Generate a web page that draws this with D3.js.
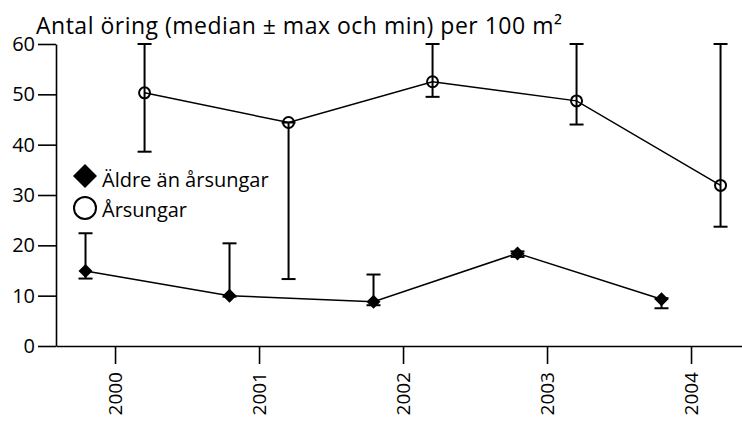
<!DOCTYPE html>
<html>
<head>
<meta charset="utf-8">
<script src="https://cdn.jsdelivr.net/npm/d3@7"></script>
<style>
  body { margin: 0; background: #fff; }
  svg text { font-family: "Open Sans", sans-serif; fill: #000; }
</style>
</head>
<body>
<svg id="canvas"></svg>
<script>
// data
let years = [2000, 2001, 2002, 2003, 2004]
let aldreMedian = [14.9, 10.0, 8.8, 18.4, 9.3]
let aldreMax = [22.4, 20.4, 14.2, 18.8, 9.5]
let aldreMin = [13.4, 9.8, 8.1, 17.7, 7.5]
let arsMedian = [50.3, 44.4, 52.5, 48.7, 31.9]
let arsMax = [60, 44.4, 60, 60, 60]
let arsMin = [38.6, 13.3, 49.5, 44.0, 23.7]
let yTicks = [0, 10, 20, 30, 40, 50, 60]
let titleText = "Antal öring (median ± max och min) per 100 m²"
let legendLabels = ["Äldre än årsungar", "Årsungar"]

let width = 742
let height = 422

let svg = d3.select('#canvas')
  .attr('width', width)
  .attr('height', height)

let x = d3.scaleLinear().domain([1999.59, 2004.354]).range([56, 742])
let y = d3.scaleLinear().domain([0, 60]).range([346, 44])

let shift = 0.205

// title
svg.append('text')
  .attr('x', 36)
  .attr('y', 34)
  .attr('font-size', 23)
  .attr('letter-spacing', 0.5)
  .text(titleText)

// axes
let yAxis = svg.append('g')
  .attr('transform', 'translate(56,0)')
  .call(d3.axisLeft(y).tickValues(yTicks).tickSize(18).tickSizeOuter(0).tickPadding(3))
yAxis.selectAll('text').attr('font-size', 20).attr('font-family', '"Open Sans", sans-serif')
yAxis.selectAll('line, path').attr('stroke', '#000').attr('stroke-width', 1.6)

let xAxis = svg.append('g')
  .attr('transform', 'translate(0,346)')
  .call(d3.axisBottom(x).tickValues(years).tickFormat(d3.format('d')).tickSize(18).tickSizeOuter(0))
xAxis.selectAll('line, path').attr('stroke', '#000').attr('stroke-width', 1.6)
xAxis.selectAll('text')
  .attr('font-size', 19)
  .attr('font-family', '"Open Sans", sans-serif')
  .attr('transform', 'rotate(-90)')
  .attr('text-anchor', 'end')
  .attr('x', -26)
  .attr('y', 0)
  .attr('dy', '0.35em')

let drawSeries = (med, hi, lo, off, kind) => {
  let rows = years.map((yr, i) => ({ yr: yr, med: med[i], hi: hi[i], lo: lo[i] }))
  let px = (d) => x(d.yr + off)

  svg.append('path')
    .datum(rows)
    .attr('fill', 'none')
    .attr('stroke', '#000')
    .attr('stroke-width', 1.5)
    .attr('d', d3.line().x(px).y((d) => y(d.med)))

  let bars = svg.append('g').selectAll('g')
    .data(rows)
    .enter()
    .append('g')
    .attr('stroke', '#000')
    .attr('stroke-width', 2)

  bars.append('line')
    .attr('x1', px).attr('x2', px)
    .attr('y1', (d) => y(d.hi)).attr('y2', (d) => y(d.lo))
  bars.append('line')
    .attr('x1', (d) => px(d) - 7).attr('x2', (d) => px(d) + 7)
    .attr('y1', (d) => y(d.hi)).attr('y2', (d) => y(d.hi))
  bars.append('line')
    .attr('x1', (d) => px(d) - 7).attr('x2', (d) => px(d) + 7)
    .attr('y1', (d) => y(d.lo)).attr('y2', (d) => y(d.lo))

  if (kind === 'diamond') {
    svg.append('g').selectAll('path')
      .data(rows)
      .enter()
      .append('path')
      .attr('d', (d) => {
        let cx = px(d), cy = y(d.med)
        return `M${cx},${cy - 7}L${cx + 7},${cy}L${cx},${cy + 7}L${cx - 7},${cy}Z`
      })
      .attr('fill', '#000')
  } else {
    svg.append('g').selectAll('circle')
      .data(rows)
      .enter()
      .append('circle')
      .attr('cx', px)
      .attr('cy', (d) => y(d.med))
      .attr('r', 5.5)
      .attr('fill', 'none')
      .attr('stroke', '#000')
      .attr('stroke-width', 2)
  }
}

drawSeries(aldreMedian, aldreMax, aldreMin, -shift, 'diamond')
drawSeries(arsMedian, arsMax, arsMin, shift, 'circle')

// legend
let legend = svg.append('g')
legend.append('path')
  .attr('d', 'M85,164L97,176L85,188L73,176Z')
  .attr('fill', '#000')
legend.append('circle')
  .attr('cx', 85).attr('cy', 208).attr('r', 11)
  .attr('fill', 'none').attr('stroke', '#000').attr('stroke-width', 2)
legend.selectAll('text')
  .data(legendLabels)
  .enter()
  .append('text')
  .attr('x', 102)
  .attr('y', (d, i) => 187 + i * 30)
  .attr('font-size', 20)
  .text((d) => d)
</script>
</body>
</html>
